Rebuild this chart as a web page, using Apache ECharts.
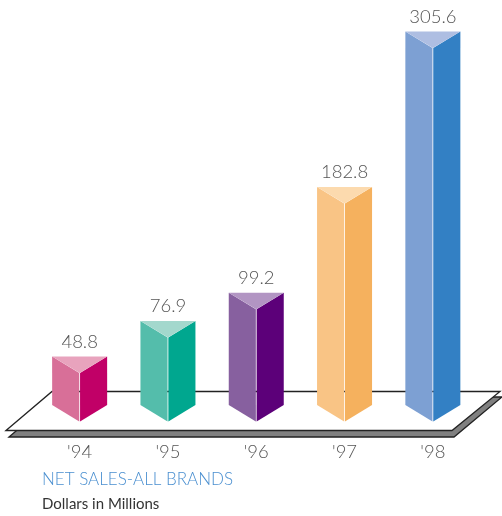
<!DOCTYPE html>
<html>
<head>
<meta charset="utf-8">
<style>html,body{margin:0;padding:0;background:#fff}#chart{width:502px;height:516px}</style>
<script src="https://cdn.jsdelivr.net/npm/echarts@6/dist/echarts.min.js"></script>
</head>
<body>
<div id="chart"></div>
<script>
// Net sales by year, dollars in millions
const years = ["'94", "'95", "'96", "'97", "'98"];
const netSales = [48.8, 76.9, 99.2, 182.8, 305.6];
const leftFace = ['#d86f98', '#54bdab', '#87609f', '#f9c485', '#7da0d3'];
const rightFace = ['#c10067', '#00a78f', '#5c0079', '#f5b15e', '#3380c4'];
const topFace = ['#e8a3bd', '#a3d8cd', '#b295c3', '#fcdaae', '#aebee2'];
const titleText = 'NET SALES-ALL BRANDS';
const subtitleText = 'Dollars in Millions';

const HALF_WIDTH = 27.5;
const DROP = 16.5;
const FONT = 'Lato, "Open Sans", sans-serif';
const axisMin = 10.4;

// Each year is a triangular prism: two side faces plus a lid, with its value above.
function renderPrism(params, api) {
  const i = api.value(0);
  const top = api.coord([i, api.value(1)]);
  const base = api.coord([i, axisMin]);
  const cx = top[0], yt = top[1], yb = base[1];
  const l = cx - HALF_WIDTH, r = cx + HALF_WIDTH;
  return {
    type: 'group',
    children: [
      { type: 'polygon', shape: { points: [[l, yt], [cx - 0.4, yt + DROP], [cx - 0.4, yb + DROP], [l, yb]] }, style: { fill: leftFace[i] } },
      { type: 'polygon', shape: { points: [[cx + 0.4, yt + DROP], [r, yt], [r, yb], [cx + 0.4, yb + DROP]] }, style: { fill: rightFace[i] } },
      { type: 'polygon', shape: { points: [[l, yt], [r, yt], [cx, yt + DROP]] }, style: { fill: topFace[i] } },
      { type: 'text', style: { x: cx, y: yt - 5, text: api.value(1).toFixed(1), fill: '#555', font: '300 18.5px ' + FONT, textAlign: 'center', textVerticalAlign: 'bottom' } }
    ]
  };
}

const chart = echarts.init(document.getElementById('chart'), null, { renderer: 'canvas' });
chart.setOption({
  animation: false,
  backgroundColor: '#fff',
  grid: { left: 35.5, width: 441.5, top: 5, height: 400 },
  xAxis: {
    type: 'category', data: years,
    axisLine: { show: false }, axisTick: { show: false },
    axisLabel: { color: '#555', fontSize: 18.5, fontWeight: 300, fontFamily: FONT, margin: 38 }
  },
  yAxis: { type: 'value', min: axisMin, max: axisMin + 400 / 1.265, show: false },
  graphic: [
    { type: 'polygon', z: 0, shape: { points: [[9, 437], [56, 397], [502, 397], [454, 437]] }, style: { fill: '#808080', stroke: '#222', lineWidth: 1.3 } },
    { type: 'polygon', z: 1, shape: { points: [[6, 430.5], [52, 391.5], [500, 391.5], [452, 430.5]] }, style: { fill: '#fff', stroke: '#222', lineWidth: 1.3 } },
    { type: 'text', left: 42, top: 471, style: { text: titleText, fill: '#4a8fd0', font: '300 17px ' + FONT } },
    { type: 'text', left: 42, top: 497, style: { text: subtitleText, fill: '#333', font: '15px ' + FONT } }
  ],
  series: [{
    type: 'custom',
    clip: false,
    z: 5,
    renderItem: renderPrism,
    encode: { x: 0, y: 1 },
    data: netSales.map((v, i) => [i, v])
  }]
});
</script>
</body>
</html>
